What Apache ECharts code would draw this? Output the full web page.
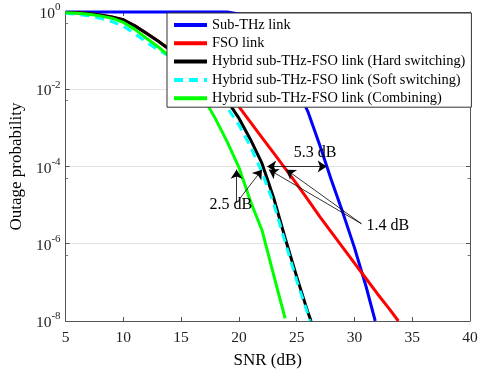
<!DOCTYPE html>
<html>
<head>
<meta charset="utf-8">
<script src="https://cdn.jsdelivr.net/npm/echarts@6/dist/echarts.min.js"></script>
<style>
  html, body { margin: 0; padding: 0; background: #fff; }
  #chart { width: 485px; height: 374px; }
</style>
</head>
<body>
<div id="chart"></div>
<script>
// SNR (dB) sample points and outage probability for each link
var snrThz = [5, 10, 15, 19, 20, 21, 22, 23, 24, 25, 26, 27, 28, 29, 30, 31, 31.8];
var outThz = [1, 1, 1, 1, 0.891, 0.631, 0.316, 0.112, 0.0355, 0.0112, 2.51e-3, 3.55e-4, 4.47e-5, 6.31e-6, 7.94e-7, 7.94e-8, 1e-8];

var snrFso = [5, 6, 7, 8, 9, 10, 11, 12, 13, 14, 15, 16, 17, 18, 19, 20, 21, 22, 23, 24, 25, 26, 27, 28, 29, 30, 31, 32, 33, 33.8];
var outFso = [0.977, 0.955, 0.912, 0.832, 0.741, 0.631, 0.437, 0.282, 0.178, 0.107, 0.0631, 0.038, 0.0224, 0.0126, 7.08e-3, 3.55e-3, 1.41e-3, 5.62e-4, 2.24e-4, 8.91e-5, 3.55e-5, 1.35e-5, 5.01e-6, 2.0e-6, 7.94e-7, 3.16e-7, 1.26e-7, 5.01e-8, 2.09e-8, 1e-8];

var snrHard = [5, 6, 7, 8, 9, 10, 11, 12, 13, 14, 15, 16, 17, 18, 19, 20, 21, 22, 23, 24, 25, 26, 26.25];
var outHard = [0.977, 0.955, 0.912, 0.832, 0.741, 0.631, 0.437, 0.282, 0.178, 0.107, 0.0631, 0.038, 0.0224, 0.012, 5.01e-3, 1.78e-3, 5.01e-4, 1.2e-4, 1.58e-5, 1.41e-6, 1.41e-7, 1.58e-8, 1e-8];

var snrSoft = [5, 6, 7, 8, 9, 10, 11, 12, 13, 14, 15, 16, 17, 18, 19, 20, 21, 22, 23, 24, 25, 26, 26.15];
var outSoft = [0.933, 0.871, 0.794, 0.692, 0.562, 0.427, 0.275, 0.166, 0.105, 0.0708, 0.0417, 0.024, 0.0132, 7.08e-3, 3.31e-3, 1.2e-3, 3.31e-4, 7.08e-5, 1.12e-5, 1.12e-6, 1.12e-7, 1.41e-8, 1e-8];

var snrComb = [5, 6, 7, 8, 9, 10, 11, 12, 13, 14, 15, 16, 17, 18, 19, 20, 21, 22, 23, 24];
var outComb = [0.955, 0.933, 0.871, 0.794, 0.692, 0.537, 0.355, 0.209, 0.126, 0.0708, 0.0331, 0.0141, 5.62e-3, 1.66e-3, 4.27e-4, 9.55e-5, 1.26e-5, 2.24e-6, 1.58e-7, 1.17e-8];

var seriesNames = [
  'Sub-THz link',
  'FSO link',
  'Hybrid sub-THz-FSO link (Hard switching)',
  'Hybrid sub-THz-FSO link (Soft switching)',
  'Hybrid sub-THz-FSO link (Combining)'
];

// annotations (data coordinates): [fromSnr, fromOut, toSnr, toOut]
var singleArrows = [
  [19.8, 1.15e-5, 19.8, 8.3e-5],
  [19.8, 1.15e-5, 22.0, 8.3e-5],
  [30.6, 3.3e-6, 22.6, 8.3e-5],
  [30.6, 3.3e-6, 24.1, 8.3e-5]
];
var doubleArrow = [22.45, 1e-4, 27.6, 1e-4];
var gainTexts = ['5.3 dB', '2.5 dB', '1.4 dB'];
var gainSnr = [26.6, 19.3, 32.9];
var gainOut = [2.3e-4, 1.02e-5, 2.9e-6];

var FONT = 'Liberation Serif';

function pairs(xs, ys) {
  var out = [];
  for (var i = 0; i < xs.length; i++) out.push([xs[i], ys[i]]);
  return out;
}

function lineSeries(name, xs, ys, color, dash) {
  return {
    name: name,
    type: 'line',
    data: pairs(xs, ys),
    symbol: 'none',
    clip: false,
    lineStyle: { color: color, width: 3, type: dash || 'solid' },
    itemStyle: { color: color },
    emphasis: { disabled: true }
  };
}

var arrowData = singleArrows.map(function (a) {
  return [
    { coord: [a[0], a[1]], symbol: 'none' },
    { coord: [a[2], a[3]], symbol: 'arrow' }
  ];
});
arrowData.push([
  { coord: [doubleArrow[0], doubleArrow[1]], symbol: 'arrow' },
  { coord: [doubleArrow[2], doubleArrow[3]], symbol: 'arrow' }
]);

var textData = gainTexts.map(function (t, i) {
  return { name: t, coord: [gainSnr[i], gainOut[i]] };
});

var expLabel = function (v) {
  var e = Math.round(Math.log(v) / Math.LN10);
  return '{b|10}{e|' + e + '}';
};

var myChart = echarts.init(document.getElementById('chart'));
var option = {
  animation: false,
  grid: { left: 58, right: 15, top: 12, bottom: 48 },
  legend: {
    data: seriesNames,
    orient: 'vertical',
    left: 167,
    top: 13,
    itemWidth: 33,
    itemHeight: 14,
    itemGap: 4.3,
    padding: [5, 6, 2, 5],
    backgroundColor: '#fff',
    borderColor: '#333',
    borderWidth: 1,
    borderRadius: 0,
    // hide the marker drawn in the middle of each legend line
    itemStyle: { color: 'rgba(0,0,0,0)', borderColor: 'rgba(0,0,0,0)', borderWidth: 0 },
    lineStyle: { width: 4 },
    textStyle: { fontFamily: FONT, fontSize: 14.4, color: '#000' },
    selectedMode: false
  },
  xAxis: [{
    type: 'value',
    min: 5, max: 40, interval: 5,
    name: 'SNR (dB)',
    nameLocation: 'middle',
    nameGap: 31,
    nameTextStyle: { fontFamily: FONT, fontSize: 17, color: '#000' },
    axisLine: { lineStyle: { color: '#555', width: 1 } },
    axisTick: { inside: true, length: 4, lineStyle: { color: '#555' } },
    axisLabel: { fontFamily: FONT, fontSize: 15.5, color: '#222', margin: 9 },
    splitLine: { show: false }
  }, {
    type: 'value',
    position: 'top',
    min: 5, max: 40, interval: 5,
    axisLine: { lineStyle: { color: '#555', width: 1 } },
    axisTick: { inside: true, length: 4, lineStyle: { color: '#555' } },
    axisLabel: { show: false },
    splitLine: { show: false }
  }],
  yAxis: [{
    type: 'log',
    logBase: 10,
    min: 1e-8, max: 1, interval: 2,
    name: 'Outage probability',
    nameLocation: 'middle',
    nameGap: 36,
    nameTextStyle: { fontFamily: FONT, fontSize: 17, color: '#000' },
    axisLine: { show: true, lineStyle: { color: '#555', width: 1 } },
    axisTick: { show: true, inside: true, length: 4, lineStyle: { color: '#555' } },
    minorTick: { show: true, splitNumber: 2, length: 2.5, lineStyle: { color: '#777' } },
    axisLabel: {
      margin: 5,
      formatter: expLabel,
      rich: {
        b: { fontFamily: FONT, fontSize: 15.5, color: '#222', lineHeight: 20, verticalAlign: 'bottom' },
        e: { fontFamily: FONT, fontSize: 11, color: '#222', lineHeight: 20, verticalAlign: 'top' }
      }
    },
    splitLine: { show: true, lineStyle: { color: '#e3e3e3', width: 1 } }
  }, {
    type: 'log',
    logBase: 10,
    position: 'right',
    min: 1e-8, max: 1, interval: 2,
    axisLine: { show: true, lineStyle: { color: '#555', width: 1 } },
    axisTick: { show: true, inside: true, length: 4, lineStyle: { color: '#555' } },
    minorTick: { show: true, splitNumber: 2, length: 2.5, lineStyle: { color: '#777' } },
    axisLabel: { show: false },
    splitLine: { show: false }
  }],
  series: [
    lineSeries(seriesNames[0], snrThz, outThz, '#0000ff'),
    lineSeries(seriesNames[1], snrFso, outFso, '#ff0000'),
    lineSeries(seriesNames[2], snrHard, outHard, '#000000'),
    lineSeries(seriesNames[3], snrSoft, outSoft, '#00ffff', [9, 6]),
    lineSeries(seriesNames[4], snrComb, outComb, '#00ff00'),
    {
      name: 'annotations',
      type: 'line',
      data: [],
      silent: true,
      markLine: {
        silent: true,
        symbolSize: 9,
        label: { show: false },
        lineStyle: { color: '#000', width: 0.8, type: 'solid' },
        emphasis: { disabled: true },
        data: arrowData
      },
      markPoint: {
        silent: true,
        symbol: 'circle',
        symbolSize: 1,
        itemStyle: { color: 'rgba(0,0,0,0)' },
        label: {
          show: true,
          position: 'inside',
          formatter: '{b}',
          fontFamily: FONT,
          fontSize: 16,
          color: '#000'
        },
        data: textData
      }
    }
  ]
};
myChart.setOption(option);
</script>
</body>
</html>
